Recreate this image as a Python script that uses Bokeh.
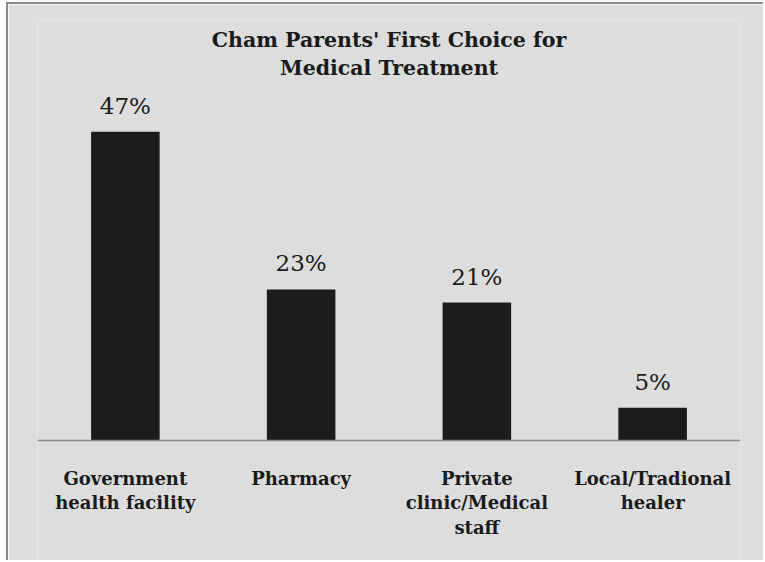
from bokeh.plotting import figure
from bokeh.models import ColumnDataSource, Range1d, Label, Span
from bokeh.embed import file_html
from bokeh.resources import INLINE
from bokeh.core.properties import value

categories = ["Government health facility", "Pharmacy", "Private clinic/Medical staff", "Local/Tradional healer"]
tick_labels = ["Government\nhealth facility", "Pharmacy", "Private\nclinic/Medical\nstaff", "Local/Tradional\nhealer"]
values = [47, 23, 21, 5]
value_labels = ["47%", "23%", "21%", "5%"]
title_lines = ["Cham Parents' First Choice for", "Medical Treatment"]

BG = "#dcdddc"
source = ColumnDataSource(data=dict(cat=categories, val=values, lab=value_labels,
                                    tick=tick_labels, base=[0] * len(values)))

p = figure(x_range=categories, y_range=Range1d(-18.57, 63.93), width=757, height=558,
           output_backend="svg", toolbar_location=None,
           min_border_left=29, min_border_right=25, min_border_top=16, min_border_bottom=0)
p.background_fill_color = BG
p.border_fill_color = BG
p.outline_line_color = None
p.grid.grid_line_color = None
p.axis.visible = False
p.x_range.range_padding = 0

p.vbar(x="cat", top="val", width=0.39, source=source, fill_color="#1c1c1c", line_color=None)
p.add_layout(Span(location=0, dimension="width", line_color="#8c8c8c", line_width=1.5))

p.text(x="cat", y="val", text="lab", source=source, text_align="center", text_baseline="bottom",
       y_offset=-13, text_font=value("DejaVu Serif"), text_font_size="23px", text_color="#1a1a1a")

p.text(x="cat", y="base", text="tick", source=source, text_align="center", text_baseline="top",
       y_offset=27, text_font=value("DejaVu Serif"), text_font_style="bold",
       text_font_size="18px", text_color="#1a1a1a", text_line_height=1.18)

for i, t in enumerate(title_lines):
    p.add_layout(Label(x=2.0, y=60.9 - 4.26 * i, text=t, text_align="center", text_baseline="middle",
                       text_font="DejaVu Serif", text_font_style="bold",
                       text_font_size="20.5px", text_color="#1a1a1a"))

p.styles = {"border-top": "2px solid #8a8a8a", "border-left": "2px solid #8a8a8a",
            "margin-top": "2px", "margin-left": "6px"}

open("out.html", "w").write(file_html(p, INLINE))
